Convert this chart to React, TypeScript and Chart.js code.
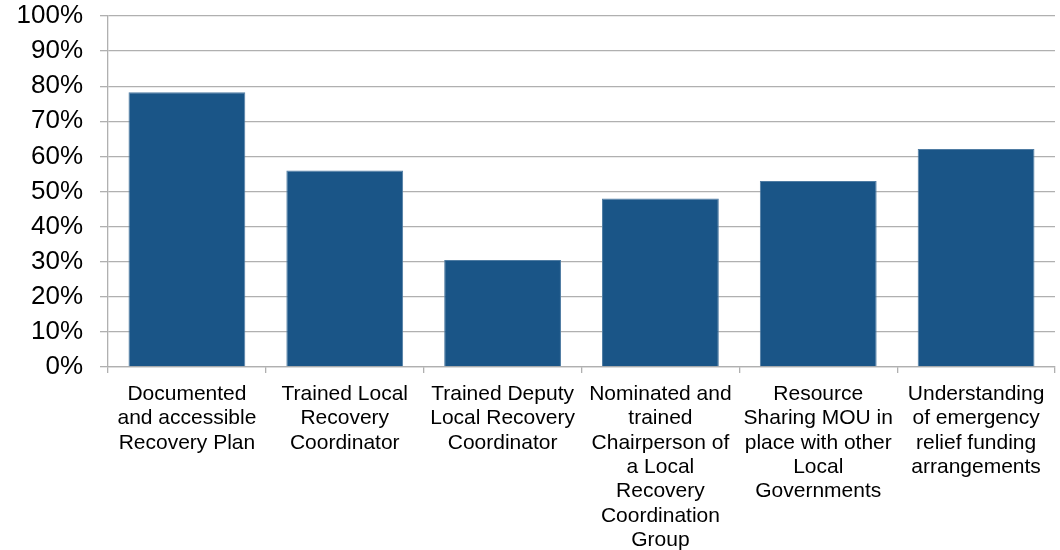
import React, { useEffect, useRef } from "react";
import { Chart, registerables } from "chart.js";

Chart.register(...registerables);

const categories: string[][] = [
  ["Documented", "and accessible", "Recovery Plan"],
  ["Trained Local", "Recovery", "Coordinator"],
  ["Trained Deputy", "Local Recovery", "Coordinator"],
  ["Nominated and", "trained", "Chairperson of", "a Local", "Recovery", "Coordination", "Group"],
  ["Resource", "Sharing MOU in", "place with other", "Local", "Governments"],
  ["Understanding", "of emergency", "relief funding", "arrangements"],
];

const values: number[] = [78.3, 56, 30.5, 48, 53, 62.1];

const yMin = 0;
const yMax = 100;
const yStep = 10;

export default function App() {
  const ref = useRef<HTMLCanvasElement | null>(null);

  useEffect(() => {
    if (!ref.current) return;
    const gridColor = "#b0b0b0";
    const chart = new Chart(ref.current, {
      type: "bar",
      data: {
        labels: categories,
        datasets: [
          {
            data: values,
            backgroundColor: "#1a5587",
            borderColor: "#4f7ca3",
            borderWidth: 1,
            categoryPercentage: 1,
            barPercentage: 0.74,
          },
        ],
      },
      options: {
        animation: false,
        responsive: false,
        maintainAspectRatio: false,
        layout: { padding: { top: 16, right: 5, bottom: 0, left: 0 } },
        plugins: {
          legend: { display: false },
          tooltip: { enabled: false },
        },
        scales: {
          x: {
            offset: true,
            grid: {
              display: true,
              offset: true,
              drawOnChartArea: false,
              drawTicks: true,
              tickLength: 6,
              color: gridColor,
              lineWidth: 1.3,
            },
            border: { display: true, color: gridColor, width: 1.3 },
            ticks: {
              color: "#000",
              maxRotation: 0,
              autoSkip: false,
              padding: 9,
              font: { family: "'Liberation Sans', Arial, sans-serif", size: 21, lineHeight: 1.16 },
            },
            afterFit: (scale: any) => {
              scale.height = 183;
            },
          },
          y: {
            min: yMin,
            max: yMax,
            grid: {
              color: gridColor,
              tickLength: 8,
              lineWidth: 1.3,
            },
            border: { display: true, color: gridColor, width: 1.3 },
            ticks: {
              stepSize: yStep,
              autoSkip: false,
              color: "#000",
              padding: 17,
              font: { family: "'Liberation Sans', Arial, sans-serif", size: 26 },
              callback: (v: any) => `${v}%`,
            },
            afterFit: (scale: any) => {
              scale.width = 108;
              scale.paddingTop = 14;
              scale.paddingBottom = 0;
            },
          },
        },
      },
    });
    return () => chart.destroy();
  }, []);

  return (
    <div style={{ position: "absolute", left: 0, top: 0, width: 1060, height: 550, background: "#fff" }}>
      <canvas ref={ref} width={1060} height={550} style={{ width: 1060, height: 550 }} />
    </div>
  );
}
